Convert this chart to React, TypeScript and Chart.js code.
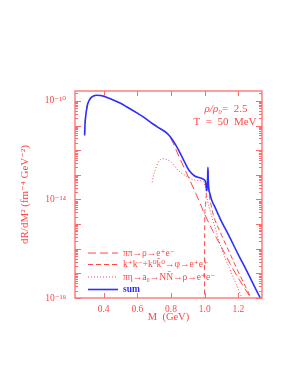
import React, { useEffect, useRef } from "react";
import { Chart, registerables } from "chart.js";
Chart.register(...registerables);

const RED = "#ff4646";
const FRAME = "#ff6a6a";
const BLUE = "#2f2fff";
const SERIF = "'Liberation Serif', 'DejaVu Serif', serif";

// M (GeV) and log10(dR/dM^2)
const sumMass = [0.287, 0.289, 0.293, 0.3, 0.306, 0.315, 0.327, 0.34, 0.357, 0.38, 0.4, 0.436, 0.5, 0.536, 0.6, 0.635, 0.695, 0.734, 0.774, 0.8, 0.83, 0.854, 0.88, 0.91, 0.94, 0.97, 0.99, 1.003, 1.008, 1.012, 1.015, 1.017, 1.019, 1.021, 1.025, 1.03, 1.04, 1.06, 1.1, 1.142, 1.2, 1.242, 1.3, 1.345];
const sumLog = [-11.4, -11.0, -10.65, -10.3, -10.11, -9.97, -9.86, -9.8, -9.77, -9.78, -9.81, -9.9, -10.1, -10.24, -10.5, -10.65, -10.95, -11.12, -11.3, -11.5, -11.82, -12.12, -12.48, -12.85, -13.05, -13.12, -13.17, -13.25, -13.45, -13.65, -13.45, -13.15, -12.7, -13.2, -13.6, -13.75, -14.0, -14.3, -14.9, -15.45, -16.25, -16.8, -17.6, -18.2];

const rhoMass = [0.287, 0.289, 0.293, 0.3, 0.306, 0.315, 0.327, 0.34, 0.357, 0.38, 0.4, 0.436, 0.5, 0.536, 0.6, 0.635, 0.695, 0.734, 0.774, 0.8, 0.85, 0.9, 0.95, 1.0, 1.05, 1.1, 1.15, 1.2, 1.25, 1.3];
const rhoLog = [-11.4, -11.0, -10.65, -10.3, -10.11, -9.97, -9.86, -9.8, -9.77, -9.78, -9.81, -9.9, -10.1, -10.24, -10.5, -10.65, -10.95, -11.12, -11.3, -11.55, -12.3, -13.05, -13.8, -14.6, -15.3, -15.95, -16.6, -17.2, -17.75, -18.3];

const phiMass = [0.999, 1.0, 1.004, 1.008, 1.012, 1.015, 1.017, 1.019, 1.021, 1.025, 1.03, 1.04, 1.05, 1.1, 1.15, 1.2, 1.25, 1.3];
const phiLog = [-18.5, -14.9, -14.3, -13.9, -13.7, -13.5, -13.15, -12.75, -13.25, -13.65, -13.95, -14.3, -14.6, -15.45, -16.2, -16.95, -17.65, -18.35];

const a0Mass = [0.688, 0.695, 0.705, 0.724, 0.754, 0.794, 0.844, 0.903, 0.943, 0.983, 0.995, 1.005, 1.012, 1.03, 1.06, 1.1, 1.15, 1.2, 1.24];
const a0Log = [-13.31, -13.05, -12.83, -12.49, -12.35, -12.45, -12.83, -13.1, -13.22, -13.25, -13.3, -13.55, -13.9, -14.4, -15.1, -16.0, -16.85, -17.65, -18.3];

const xTicks = [0.4, 0.6, 0.8, 1.0, 1.2];
const yLabelExps = [-18, -14, -10];
const yDecades = [-18, -17, -16, -15, -14, -13, -12, -11, -10];

const legendLabels = [
  "\u03c0\u03c0\u2192\u03c1\u2192e\u207ae\u207b",
  "k\u207ak\u207b+k\u2070k\u0304\u2070\u2192\u03c6\u2192e\u207ae\u207a",
  "\u03c0\u03b7\u2192a\u2080\u2192NN\u0304\u2192\u03c1\u2192e\u207ae\u207b",
  "sum",
];

const SUP: Record<string, string> = { "-": "\u207b", "0": "\u2070", "1": "\u00b9", "2": "\u00b2", "3": "\u00b3", "4": "\u2074", "5": "\u2075", "6": "\u2076", "7": "\u2077", "8": "\u2078", "9": "\u2079" };
const sup = (s: string) => s.split("").map((c) => SUP[c] || c).join("");

const pts = (xs: number[], ls: number[]) => xs.map((x, i) => ({ x, y: Math.pow(10, ls[i]) }));

const framePlugin = {
  id: "frameTicks",
  afterDatasetsDraw(chart: any) {
    const { ctx, chartArea, scales } = chart;
    const { left, right, top, bottom } = chartArea;
    const x = scales.x;
    const y = scales.y;
    ctx.save();
    ctx.strokeStyle = FRAME;
    ctx.lineWidth = 1.3;
    ctx.strokeRect(left, top, right - left, bottom - top);
    ctx.lineWidth = 1;
    ctx.beginPath();
    for (const v of xTicks) {
      const px = Math.round(x.getPixelForValue(v)) + 0.5;
      ctx.moveTo(px, bottom);
      ctx.lineTo(px, bottom - 5);
      ctx.moveTo(px, top);
      ctx.lineTo(px, top + 5);
    }
    for (const e of yDecades) {
      for (let m = 1; m < 10; m++) {
        const val = m * Math.pow(10, e);
        if (val > y.max) break;
        const py = Math.round(y.getPixelForValue(val)) + 0.5;
        const len = m === 1 ? 6 : 3;
        ctx.moveTo(left, py);
        ctx.lineTo(left + len, py);
        ctx.moveTo(right, py);
        ctx.lineTo(right - len, py);
      }
    }
    ctx.stroke();
    ctx.restore();
  },
  afterDraw(chart: any) {
    const { ctx, chartArea } = chart;
    const { left } = chartArea;
    ctx.save();
    // legend
    const ds = chart.data.datasets;
    const order = [1, 2, 3, 0];
    const rowY = [253, 264.5, 277, 289.5];
    order.forEach((di, i) => {
      const d = ds[di];
      const y = rowY[i];
      ctx.strokeStyle = d.borderColor;
      ctx.lineWidth = d.borderWidth;
      ctx.setLineDash(d.borderDash || []);
      ctx.beginPath();
      ctx.moveTo(left + 13, y);
      ctx.lineTo(left + 43, y);
      ctx.stroke();
      ctx.setLineDash([]);
      ctx.fillStyle = di === 0 ? BLUE : RED;
      ctx.font = (di === 0 ? "bold " : "") + "9.5px " + SERIF;
      ctx.textBaseline = "middle";
      ctx.textAlign = "left";
      ctx.fillText(legendLabels[i], left + 48, y);
    });
    // annotation
    ctx.fillStyle = RED;
    ctx.textBaseline = "middle";
    ctx.font = "italic 11px " + SERIF;
    const a = "\u03c1/\u03c1\u2080";
    const b = "=  2.5";
    const wa = ctx.measureText(a).width;
    ctx.font = "11px " + SERIF;
    const wb = ctx.measureText(b).width;
    const cx = 226;
    const sx = cx - (wa + wb) / 2;
    ctx.font = "italic 11px " + SERIF;
    ctx.textAlign = "left";
    ctx.fillText(a, sx, 109);
    ctx.font = "11px " + SERIF;
    ctx.fillText(b, sx + wa, 109);
    ctx.textAlign = "center";
    ctx.fillText("T  =  50  MeV", 225, 122.5);
    ctx.restore();
  },
};

export default function App() {
  const ref = useRef<HTMLCanvasElement>(null);
  useEffect(() => {
    const canvas = ref.current;
    if (!canvas) return;
    const chart = new Chart(canvas, {
      type: "line",
      data: {
        datasets: [
          { label: "sum", data: pts(sumMass, sumLog), borderColor: BLUE, borderWidth: 1.6, order: 0 },
          { label: "rho", data: pts(rhoMass, rhoLog), borderColor: RED, borderWidth: 1, borderDash: [8, 4], order: 1 },
          { label: "phi", data: pts(phiMass, phiLog), borderColor: RED, borderWidth: 1, borderDash: [5, 3], order: 2 },
          { label: "a0", data: pts(a0Mass, a0Log), borderColor: RED, borderWidth: 1, borderDash: [1, 2], order: 3 },
        ] as any,
      },
      options: {
        animation: false,
        responsive: false,
        devicePixelRatio: 1,
        layout: { padding: { top: 91, right: 33, left: 0, bottom: 0 } },
        elements: { point: { radius: 0 }, line: { cubicInterpolationMode: "monotone", fill: false } },
        plugins: { legend: { display: false }, tooltip: { enabled: false } },
        scales: {
          x: {
            type: "linear",
            min: 0.23,
            max: 1.34,
            afterBuildTicks: (s: any) => {
              s.ticks = xTicks.map((v) => ({ value: v }));
            },
            afterFit: (s: any) => {
              s.height = 84;
            },
            grid: { display: false, drawTicks: false },
            border: { display: false },
            ticks: {
              color: RED,
              font: { family: SERIF, size: 9.5 },
              padding: 6,
              maxRotation: 0,
              autoSkip: false,
              callback: (v: any) => Number(v).toFixed(1),
            },
            title: { display: true, text: "M  (GeV)", color: RED, font: { family: SERIF, size: 10.5 }, padding: { top: 0, bottom: 58 } },
          },
          y: {
            type: "logarithmic",
            min: 1e-18,
            max: Math.pow(10, -9.6),
            afterBuildTicks: (s: any) => {
              s.ticks = yLabelExps.map((e) => ({ value: Math.pow(10, e) }));
            },
            afterFit: (s: any) => {
              s.width = 75;
            },
            grid: { display: false, drawTicks: false },
            border: { display: false },
            ticks: {
              color: RED,
              font: { family: SERIF, size: 9.5 },
              padding: 9,
              autoSkip: false,
              callback: (v: any) => "10" + sup(String(Math.round(Math.log10(Number(v))))),
            },
            title: {
              display: true,
              text: "dR/dM\u00b2 (fm\u207b\u2074 GeV\u207b\u00b2)",
              color: RED,
              font: { family: SERIF, size: 11 },
              padding: { top: 19, bottom: 0 },
            },
          },
        },
      } as any,
      plugins: [framePlugin],
    });
    return () => chart.destroy();
  }, []);
  return (
    <div style={{ position: "fixed", left: 0, top: 0, width: 295, height: 382, background: "#fff" }}>
      <canvas ref={ref} width={295} height={382} style={{ display: "block", width: 295, height: 382 }} />
    </div>
  );
}
